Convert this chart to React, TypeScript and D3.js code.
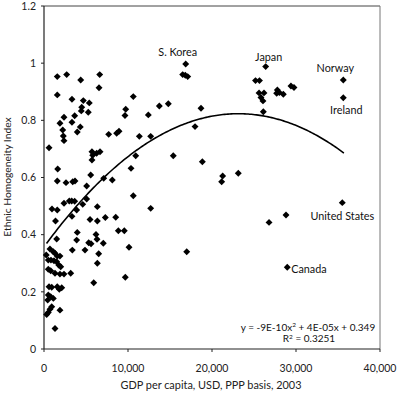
import React from "react";
import * as d3 from "d3";

// GDP per capita (USD, PPP, 2003) and ethnic homogeneity index
const gdp: number[] = [
  600, 1580, 1580, 2700, 4370, 6630, 6550, 3330, 4680, 5390, 4490, 4440, 5270, 2380, 3650, 1900,
  3330, 4320, 3960, 2230, 2300, 2380, 10630, 9730, 9640, 12420, 13730, 14800, 7700, 8650, 8930,
  11350, 12700, 5710, 5800, 5710, 6270, 6670, 10920, 15390, 1630, 1580, 2620, 3420, 3690, 5080,
  5560, 7110, 8130, 10360, 10630, 16870, 16510, 16820, 17110, 17980, 18690, 26390, 25180, 25650,
  25600, 25830, 26070, 26190, 26110, 27780, 28020, 27700, 28490, 29400, 29760, 35630, 35630,
  18850, 21270, 21150, 23130, 35510, 28810, 26790, 28960,
  2380, 3010, 3300, 3650, 4610, 5080, 950, 1580, 3890, 6350, 1370, 3330, 5480, 6350, 7300, 8540,
  12700, 8850, 9560, 3960, 6190, 6310, 5320, 5600, 7060, 4880, 3370, 6510, 6350, 10120, 16990,
  9680, 5920, 3890, 1510,
  710, 1110, 1310, 1580, 1900, 270, 510, 830, 1190, 1510, 1750, 1990, 510, 800, 1310, 1900, 2380,
  3180, 600, 920, 1580, 1820, 2110, 510, 800, 1110, 440, 920, 710, 510, 320, 1900, 1310,
];
const homogeneity: number[] = [
  0.704, 0.953, 0.889, 0.96, 0.941, 0.96, 0.914, 0.874, 0.869, 0.861, 0.846, 0.833, 0.828, 0.811,
  0.816, 0.79, 0.793, 0.777, 0.759, 0.766, 0.745, 0.729, 0.883, 0.839, 0.817, 0.819, 0.85, 0.858,
  0.751, 0.755, 0.762, 0.744, 0.744, 0.69, 0.678, 0.661, 0.685, 0.69, 0.676, 0.676, 0.63, 0.588,
  0.582, 0.585, 0.588, 0.57, 0.609, 0.597, 0.591, 0.632, 0.536, 0.997, 0.96, 0.958, 0.953, 0.778,
  0.842, 0.988, 0.939, 0.939, 0.896, 0.88, 0.868, 0.896, 0.83, 0.906, 0.897, 0.895, 0.891, 0.92,
  0.915, 0.941, 0.879, 0.655, 0.605, 0.585, 0.615, 0.512, 0.469, 0.443, 0.286,
  0.51, 0.518, 0.518, 0.517, 0.506, 0.525, 0.49, 0.486, 0.486, 0.498, 0.448, 0.464, 0.453, 0.448,
  0.46, 0.461, 0.492, 0.414, 0.414, 0.408, 0.401, 0.384, 0.372, 0.368, 0.37, 0.346, 0.346, 0.333,
  0.3, 0.356, 0.34, 0.251, 0.232, 0.381, 0.385,
  0.35, 0.34, 0.335, 0.325, 0.325, 0.329, 0.311, 0.311, 0.309, 0.305, 0.294, 0.288, 0.279, 0.274,
  0.265, 0.262, 0.262, 0.265, 0.218, 0.216, 0.218, 0.209, 0.214, 0.189, 0.183, 0.177, 0.171, 0.148,
  0.139, 0.128, 0.121, 0.136, 0.072,
];

const xTicks: number[] = [0, 10000, 20000, 30000, 40000];
const yTicks: number[] = [0, 0.2, 0.4, 0.6, 0.8, 1, 1.2];

// Polynomial trend (order 2) fitted to the plotted curve
const trendCoef: number[] = [-8.71e-10, 4.03e-5, 0.357];
const trendRange: number[] = [300, 35700];

const countryNames: string[] = ["S. Korea", "Japan", "Norway", "Ireland", "United States", "Canada"];
const countryIndex: number[] = [51, 57, 71, 72, 77, 80];

const W = 400;
const H = 394;
const FONT = "Lato, 'Open Sans', sans-serif";

export default function App() {
  const x = d3.scaleLinear().domain([0, 40000]).range([44, 380]);
  const y = d3.scaleLinear().domain([0, 1.2]).range([349, 6]);

  const diamond = d3.symbol().type(d3.symbolSquare).size(24)();

  const trendPts = d3.range(trendRange[0], trendRange[1] + 1, 200).map((g) => [
    g,
    trendCoef[0] * g * g + trendCoef[1] * g + trendCoef[2],
  ]);
  const line = d3
    .line<number[]>()
    .x((d) => x(d[0]))
    .y((d) => y(d[1]));

  const labelStyle = [
    { dx: -8, dy: -8, anchor: "middle" },
    { dx: 3, dy: -6, anchor: "middle" },
    { dx: -8, dy: -8, anchor: "middle" },
    { dx: 3, dy: 16.6, anchor: "middle" },
    { dx: 0, dy: 17.5, anchor: "middle" },
    { dx: 4, dy: 6, anchor: "start" },
  ];

  return (
    <svg
      width={W}
      height={H}
      style={{ position: "absolute", left: 0, top: 0, background: "#fff" }}
      fontFamily={FONT}
    >
      {/* frame */}
      <line x1={44} x2={380} y1={6} y2={6} stroke="#444" strokeWidth={1} />
      <line x1={380} x2={380} y1={6} y2={349} stroke="#777" strokeWidth={1} />
      <line x1={44} x2={44} y1={6} y2={349} stroke="#222" strokeWidth={1.2} />
      <line x1={44} x2={380} y1={349} y2={349} stroke="#222" strokeWidth={1.2} />

      {/* y ticks */}
      {yTicks.map((t) => (
        <g key={"y" + t}>
          <line x1={41} x2={44} y1={y(t)} y2={y(t)} stroke="#222" />
          <text x={36} y={y(t)} dy="0.35em" textAnchor="end" fontSize={10.5} fill="#222">
            {d3.format("~g")(t)}
          </text>
        </g>
      ))}
      {/* x ticks */}
      {xTicks.map((t) => (
        <g key={"x" + t}>
          <line x1={x(t)} x2={x(t)} y1={349} y2={352} stroke="#222" />
          <text x={x(t)} y={371.5} textAnchor="middle" fontSize={10.5} fill="#222">
            {d3.format(",")(t)}
          </text>
        </g>
      ))}

      {/* axis titles */}
      <text x={211} y={388.5} textAnchor="middle" fontSize={10.9} fill="#222">
        GDP per capita, USD, PPP basis, 2003
      </text>
      <text
        transform={`translate(11,${177}) rotate(-90)`}
        textAnchor="middle"
        fontSize={10.3}
        fill="#222"
      >
        Ethnic Homogeneity Index
      </text>

      {/* points */}
      {gdp.map((g, i) => (
        <path
          key={i}
          d={diamond || ""}
          transform={`translate(${x(g)},${y(homogeneity[i])}) rotate(45)`}
          fill="#000"
        />
      ))}

      {/* trend line */}
      <path d={line(trendPts) || ""} fill="none" stroke="#000" strokeWidth={1.6} />

      {/* country labels */}
      {countryNames.map((n, k) => {
        const i = countryIndex[k];
        const s = labelStyle[k];
        return (
          <text
            key={n}
            x={x(gdp[i]) + s.dx}
            y={y(homogeneity[i]) + s.dy}
            textAnchor={s.anchor}
            fontSize={10.8}
            fill="#111"
          >
            {n}
          </text>
        );
      })}

      {/* equation */}
      <text x={308} y={330.7} textAnchor="middle" fontSize={10} fill="#111">
        y = -9E-10x<tspan dy={-3.5} fontSize={6.5}>2</tspan>
        <tspan dy={3.5}> + 4E-05x + 0.349</tspan>
      </text>
      <text x={309} y={342} textAnchor="middle" fontSize={10} fill="#111">
        R<tspan dy={-3.5} fontSize={6.5}>2</tspan>
        <tspan dy={3.5}> = 0.3251</tspan>
      </text>
    </svg>
  );
}
